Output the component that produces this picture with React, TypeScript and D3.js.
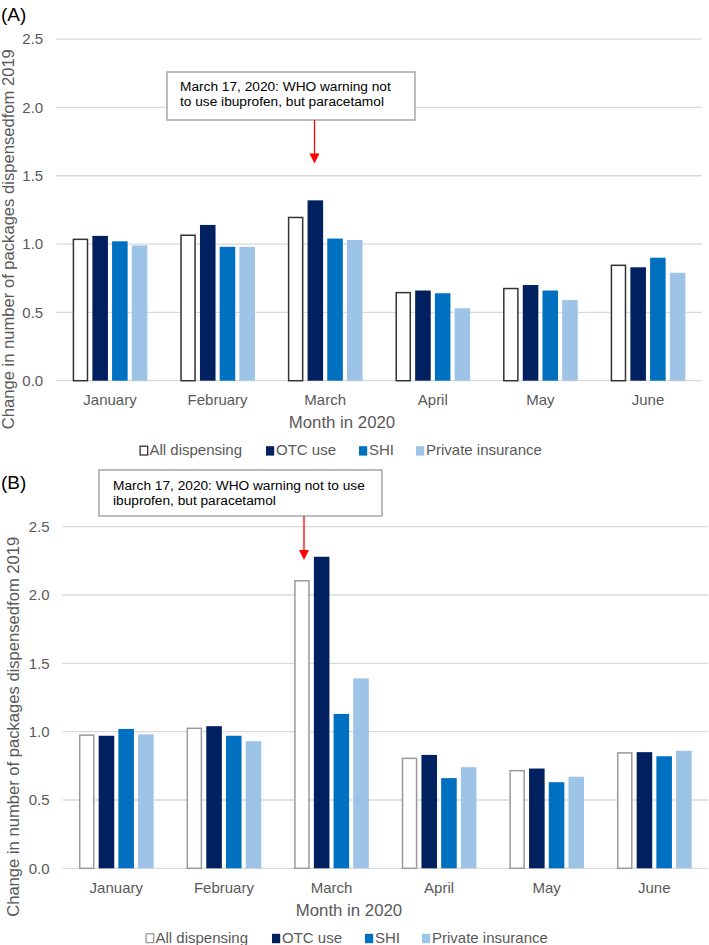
import React from "react";
import * as d3 from "d3";

const months = ["January", "February", "March", "April", "May", "June"];
const seriesNames = ["All dispensing", "OTC use", "SHI", "Private insurance"];
const seriesColors = ["#ffffff", "#002060", "#0070c0", "#9dc3e6"];
const yTicks = [0, 0.5, 1.0, 1.5, 2.0, 2.5];

// panel A
const allA = [1.04, 1.07, 1.2, 0.65, 0.68, 0.85];
const otcA = [1.06, 1.14, 1.32, 0.66, 0.7, 0.83];
const shiA = [1.02, 0.98, 1.04, 0.64, 0.66, 0.9];
const privA = [0.99, 0.98, 1.03, 0.53, 0.59, 0.79];

// panel B
const allB = [0.98, 1.03, 2.11, 0.81, 0.72, 0.85];
const otcB = [0.97, 1.04, 2.28, 0.83, 0.73, 0.85];
const shiB = [1.02, 0.97, 1.13, 0.66, 0.63, 0.82];
const privB = [0.98, 0.93, 1.39, 0.74, 0.67, 0.86];

const yTitle = "Change in number of packages dispensedfom 2019";
const xTitle = "Month in 2020";
const font = "'Liberation Sans', Arial, sans-serif";
const grey = "#595959";

function Panel(props) {
  const { label, values, left, top, whiteStroke, note, box, arrowX, arrowTop, arrowTip, titleX } = props;
  const width = 645.6;
  const height = 341.6;

  const x0 = d3.scaleBand().domain(months).range([left, left + width]).padding(0);
  const x1 = d3
    .scaleBand()
    .domain(seriesNames)
    .range([0, x0.bandwidth()])
    .paddingInner(0.21)
    .paddingOuter(0.835);
  const y = d3.scaleLinear().domain([0, 2.5]).range([top + height, top]);
  const y0 = y(0);

  const legendX = [0, 126.5, 219.5, 276.5];
  const legendStart = props.legendLeft;

  return (
    <g>
      <text x={props.labelX} y={props.labelY} fontSize={19} fill="#000" fontFamily={font}>
        {label}
      </text>

      {yTicks.map((t) => (
        <g key={t}>
          <line x1={left} x2={left + width} y1={y(t)} y2={y(t)} stroke="#d9d9d9" strokeWidth={1.3} />
          <text x={left - 13} y={y(t)} dy="0.35em" textAnchor="end" fontSize={15} fill={grey} fontFamily={font}>
            {t.toFixed(1)}
          </text>
        </g>
      ))}

      {months.map((m, i) => (
        <g key={m}>
          {values.map((vals, s) => {
            const v = vals[i];
            const bx = x0(m) + x1(seriesNames[s]);
            const isWhite = s === 0;
            return (
              <rect
                key={s}
                x={isWhite ? bx + 0.75 : bx}
                y={y(v) + (isWhite ? 0.75 : 0)}
                width={isWhite ? x1.bandwidth() - 1.5 : x1.bandwidth()}
                height={y0 - y(v) - (isWhite ? 0.75 : 0)}
                fill={seriesColors[s]}
                stroke={isWhite ? whiteStroke : "none"}
                strokeWidth={1.5}
              />
            );
          })}
          <text
            x={x0(m) + x0.bandwidth() / 2}
            y={y0 + 24.5}
            textAnchor="middle"
            fontSize={15}
            fill={grey}
            fontFamily={font}
          >
            {m}
          </text>
        </g>
      ))}

      <text
        transform={`translate(${titleX},${y0 - 141.5}) rotate(-90)`}
        textAnchor="middle"
        fontSize={16.6}
        fill={grey}
        fontFamily={font}
      >
        {yTitle}
      </text>
      <text x={props.xTitleX} y={y0 + 47.5} textAnchor="middle" fontSize={16.8} fill={grey} fontFamily={font}>
        {xTitle}
      </text>

      {seriesNames.map((s, i) => (
        <g key={s}>
          <rect
            x={legendStart + legendX[i] + (i === 0 ? 0.6 : 0)}
            y={y0 + 65.5}
            width={i === 0 ? 7.6 : 8.2}
            height={i === 0 ? 8.8 : 9.4}
            fill={seriesColors[i]}
            stroke={i === 0 ? whiteStroke : "none"}
            strokeWidth={1.3}
          />
          <text
            x={legendStart + legendX[i] + 10}
            y={y0 + 74.5}
            fontSize={15}
            fill={grey}
            fontFamily={font}
          >
            {s}
          </text>
        </g>
      ))}

      <rect x={box[0]} y={box[1]} width={box[2]} height={box[3]} fill="#fff" stroke="#a6a6a6" strokeWidth={1.5} />
      {note.map((line, i) => (
        <text
          key={i}
          x={box[0] + props.noteDx}
          y={box[1] + props.noteDy + i * 15.8}
          fontSize={13.7}
          fill="#000"
          fontFamily={font}
        >
          {line}
        </text>
      ))}
      <line x1={arrowX} x2={arrowX} y1={arrowTop} y2={arrowTip - 8} stroke="#ff0000" strokeWidth={1.3} />
      <path
        d={`M${arrowX - 5},${arrowTip - 10} L${arrowX + 5},${arrowTip - 10} L${arrowX},${arrowTip} Z`}
        fill="#ff0000"
      />
    </g>
  );
}

export default function App() {
  return (
    <svg
      width={709}
      height={945}
      style={{ position: "absolute", left: 0, top: 0, background: "#fff" }}
    >
      <rect width={709} height={945} fill="#fff" />
      <Panel
        label="(A)"
        labelX={1}
        labelY={21}
        values={[allA, otcA, shiA, privA]}
        left={56.2}
        top={39.1}
        whiteStroke="#333333"
        titleX={14}
        xTitleX={342}
        legendLeft={139.5}
        note={["March 17, 2020: WHO warning not", "to use ibuprofen, but paracetamol"]}
        box={[167, 72, 248, 48]}
        noteDx={13}
        noteDy={18.5}
        arrowX={314.5}
        arrowTop={120}
        arrowTip={163.5}
      />
      <Panel
        label="(B)"
        labelX={1}
        labelY={489}
        values={[allB, otcB, shiB, privB]}
        left={62.5}
        top={526.7}
        whiteStroke="#9a9a9a"
        titleX={19}
        xTitleX={349}
        legendLeft={145.5}
        note={["March 17, 2020: WHO warning not to use", "ibuprofen, but paracetamol"]}
        box={[99, 470, 283, 46]}
        noteDx={14}
        noteDy={19.5}
        arrowX={304}
        arrowTop={516}
        arrowTip={560}
      />
    </svg>
  );
}
